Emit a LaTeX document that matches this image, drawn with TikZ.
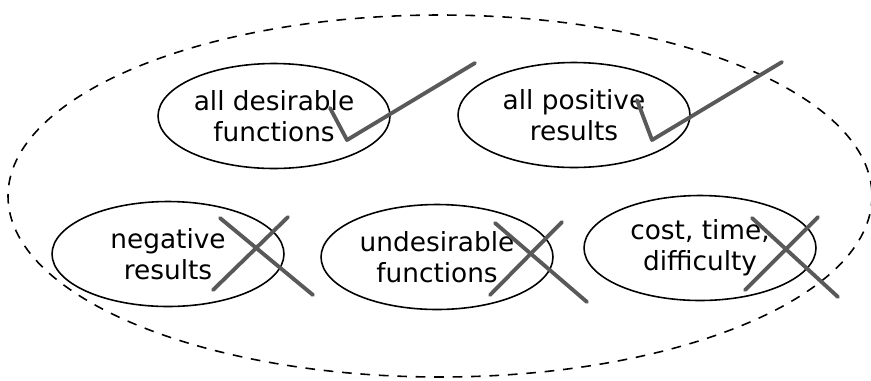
\documentclass[tikz,border=0pt]{standalone}
\usepackage{fontspec}
\setmainfont{DejaVu Sans}
\usetikzlibrary{shapes.geometric}

\begin{document}
\begin{tikzpicture}[
    x=0.02cm, y=-0.02cm,
    line join=round,
    line cap=round,
    font=\fontsize{15}{17.5}\selectfont,
    goal/.style={ellipse, draw, line width=0.9pt, inner sep=0pt,
        minimum width=4.64cm, minimum height=2.1cm, align=center},
    tick/.style={draw=black!65, line width=2.2pt}
]

% ======================================
% 画布范围
% ======================================
\useasboundingbox (0,0) rectangle (871,380);

% ======================================
% 外层虚线椭圆
% ======================================
\draw[line width=0.9pt, line cap=butt, dash pattern=on 5.5pt off 5pt]
    (440,196) ellipse [x radius=432, y radius=181];

% ======================================
% 上排：期望的结果
% ======================================
\node[goal] (desire) at (274,116) {all desirable\\functions};
\node[goal] (positive) at (574,115) {all positive\\results};

% ======================================
% 下排：不期望的结果
% ======================================
\node[goal] (negative) at (168,254) {negative\\results};
\node[goal] (undesire) at (437,257) {undesirable\\functions};
\node[goal] (cost) at (700,248) {cost, time,\\difficulty};

% ======================================
% 勾号
% ======================================
\draw[tick] (330,108) -- (347,140) -- (475,63);
\draw[tick] (637,100) -- (652,140) -- (782,62);

% ======================================
% 叉号
% ======================================
\draw[tick] (220,218) -- (313,295);
\draw[tick] (288,217) -- (213,290);

\draw[tick] (495,223) -- (587,302);
\draw[tick] (562,222) -- (490,295);

\draw[tick] (752,218) -- (838,297);
\draw[tick] (818,217) -- (745,290);

\end{tikzpicture}
\end{document}
